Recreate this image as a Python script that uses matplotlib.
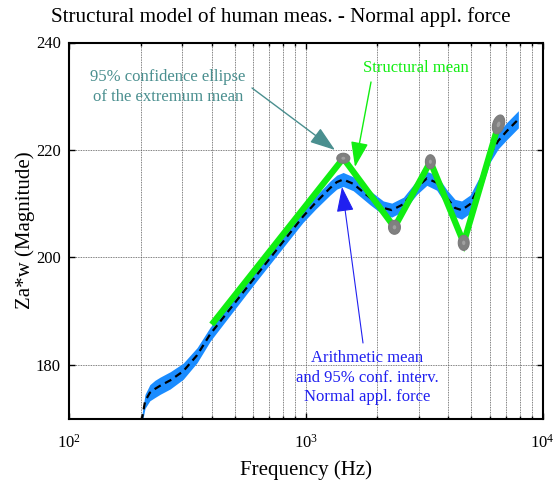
import numpy as np
import matplotlib
matplotlib.use("Agg")
import matplotlib.pyplot as plt
from matplotlib.ticker import LogLocator, FixedLocator, NullFormatter

plt.rcParams["font.family"] = ["Liberation Serif", "DejaVu Serif"]
plt.rcParams["mathtext.fontset"] = "custom"
plt.rcParams["mathtext.rm"] = "Liberation Serif"
plt.rcParams["mathtext.it"] = "Liberation Serif:italic"

# Arithmetic mean of the measured driving-point magnitude
mean_freq = [202, 209, 219, 230, 242, 267, 303, 347, 394, 478, 619, 800, 972,
             1100, 1265, 1350, 1437, 1585, 1866, 2125, 2306, 2584, 2941, 3245,
             3571, 3939, 4266, 4550, 4941, 5448, 6001, 6501, 7060, 7906]
mean_mag = [169.5, 173.2, 174.8, 175.5, 176.1, 177.1, 178.8, 181.8, 185.7,
            190.4, 196.7, 202.9, 207.6, 210.2, 212.9, 214.0, 214.5, 213.7,
            211.1, 209.2, 208.8, 209.9, 213.0, 214.7, 213.9, 211.1, 209.2,
            208.8, 209.9, 213.6, 219.2, 221.7, 223.5, 225.7]
# half width of the 95% confidence interval of the mean
ci_half = [0.8, 1.3, 1.5, 1.6, 1.6, 1.6, 1.5, 1.4, 1.3, 1.2, 1.1, 1.1, 1.1,
           1.2, 1.3, 1.3, 1.3, 1.3, 1.3, 1.3, 1.3, 1.3, 1.3, 1.3, 1.4, 1.5,
           1.6, 1.7, 1.7, 1.6, 1.5, 1.5, 1.6, 1.6]

# Structural mean: straight segments between extremum means
struct_freq = [400, 1439, 2368, 3358, 4645, 6518]
struct_mag = [187.5, 218.45, 205.6, 217.8, 202.7, 224.75]

# 95% confidence ellipses of the extremum means
ell_freq = [1439, 2368, 3358, 4645, 6518]
ell_mag = [218.45, 205.6, 217.8, 202.7, 224.75]
ell_dlog = [0.0275, 0.025, 0.021, 0.023, 0.026]
ell_dmag = [0.93, 1.3, 1.3, 1.4, 1.75]
ell_rho = [0.0, 0.0, 0.0, 0.0, 0.3]

BLUE_BAND = "#1a8cff"
GREEN = "#11ee11"
TEAL = "#4a8f8f"
BLUE_TXT = "#2020f0"

fig = plt.figure(figsize=(5.55, 4.82), dpi=100)
ax = fig.add_axes([69.3 / 555, 1 - 418.5 / 482, (542.5 - 69.3) / 555,
                   (418.5 - 42.5) / 482])

ax.set_xscale("log")
ax.set_xlim(100, 10000)
ax.set_ylim(170, 240)

mf = np.array(mean_freq)
mm = np.array(mean_mag)
ch = np.array(ci_half)
ax.fill_between(mf, mm - ch, mm + ch, color=BLUE_BAND, lw=0, zorder=2)
ax.plot(mf, mm, color="black", lw=1.6, dashes=(3.2, 2.2), zorder=3)

ax.plot(struct_freq, struct_mag, color=GREEN, lw=4.5, solid_capstyle="butt",
        solid_joinstyle="miter", zorder=4)

t = np.linspace(0, 2 * np.pi, 80)
for f0, m0, dl, dm, rho in zip(ell_freq, ell_mag, ell_dlog, ell_dmag, ell_rho):
    lx = np.log10(f0) + dl * np.cos(t)
    ly = m0 + dm * (rho * np.cos(t) + np.sqrt(1 - rho ** 2) * np.sin(t))
    ax.fill(10 ** lx, ly, color="#808080", lw=0.8, ec="#7a7a7a", zorder=5)
    lx2 = np.log10(f0) + 0.3 * dl * np.cos(t)
    ly2 = m0 + 0.3 * dm * (rho * np.cos(t) + np.sqrt(1 - rho ** 2) * np.sin(t))
    ax.fill(10 ** lx2, ly2, color="#a0a0a0", lw=0, zorder=6)

# axes styling
ax.xaxis.set_major_locator(LogLocator(base=10, numticks=5))
ax.xaxis.set_minor_locator(LogLocator(base=10, subs=np.arange(2, 10), numticks=20))
ax.xaxis.set_minor_formatter(NullFormatter())
ax.yaxis.set_major_locator(FixedLocator([180, 200, 220, 240]))
ax.tick_params(which="both", direction="in", top=True, right=True,
               labelsize=12, width=1.0, colors="black")
ax.tick_params(which="major", length=4)
ax.tick_params(which="minor", length=2.5)
ax.tick_params(axis="x", which="major", pad=11)
ax.tick_params(axis="y", which="major", pad=6)
ax.grid(True, which="major", ls=(0, (1, 1)), color="#555555", lw=0.6, zorder=0)
ax.grid(True, which="minor", axis="x", ls=(0, (1, 1)), color="#555555", lw=0.6,
        zorder=0)
ax.set_axisbelow(True)
for s in ax.spines.values():
    s.set_linewidth(1.5)

ax.set_xlabel("Frequency (Hz)", fontsize=15, labelpad=6)
ax.set_ylabel("Za*w (Magnitude)", fontsize=15, labelpad=1)
fig.text(281 / 555, 1 - 17 / 482, "Structural model of human meas. - Normal appl. force",
         ha="center", va="center", fontsize=15.2)


def px(x, y):
    return (x / 555, 1 - y / 482)


def arrow(tail, tip, color, lw):
    ax.annotate("", xy=px(*tip), xycoords="figure fraction",
                xytext=px(*tail), textcoords="figure fraction",
                arrowprops=dict(arrowstyle="-|>,head_length=1.3,head_width=0.45",
                                color=color, lw=lw, shrinkA=0, shrinkB=0,
                                mutation_scale=12), zorder=8)


ax.text(*px(168, 87), "95% confidence ellipse\nof the extremum mean",
        transform=fig.transFigure, ha="center", va="center", fontsize=12,
        color=TEAL, linespacing=1.3, zorder=8)
arrow((252, 88), (335, 150), TEAL, 1.0)

ax.text(*px(416, 68), "Structural mean", transform=fig.transFigure,
        ha="center", va="center", fontsize=12, color=GREEN, zorder=8)
arrow((371, 82), (355, 167), GREEN, 1.0)

ax.text(*px(367, 377.5), "Arithmetic mean\nand 95% conf. interv.\nNormal appl. force",
        transform=fig.transFigure, ha="center", va="center", fontsize=12,
        color=BLUE_TXT, linespacing=1.3, zorder=8)
arrow((363, 343), (342, 187), BLUE_TXT, 0.8)

fig.savefig("out.png", dpi=100)
